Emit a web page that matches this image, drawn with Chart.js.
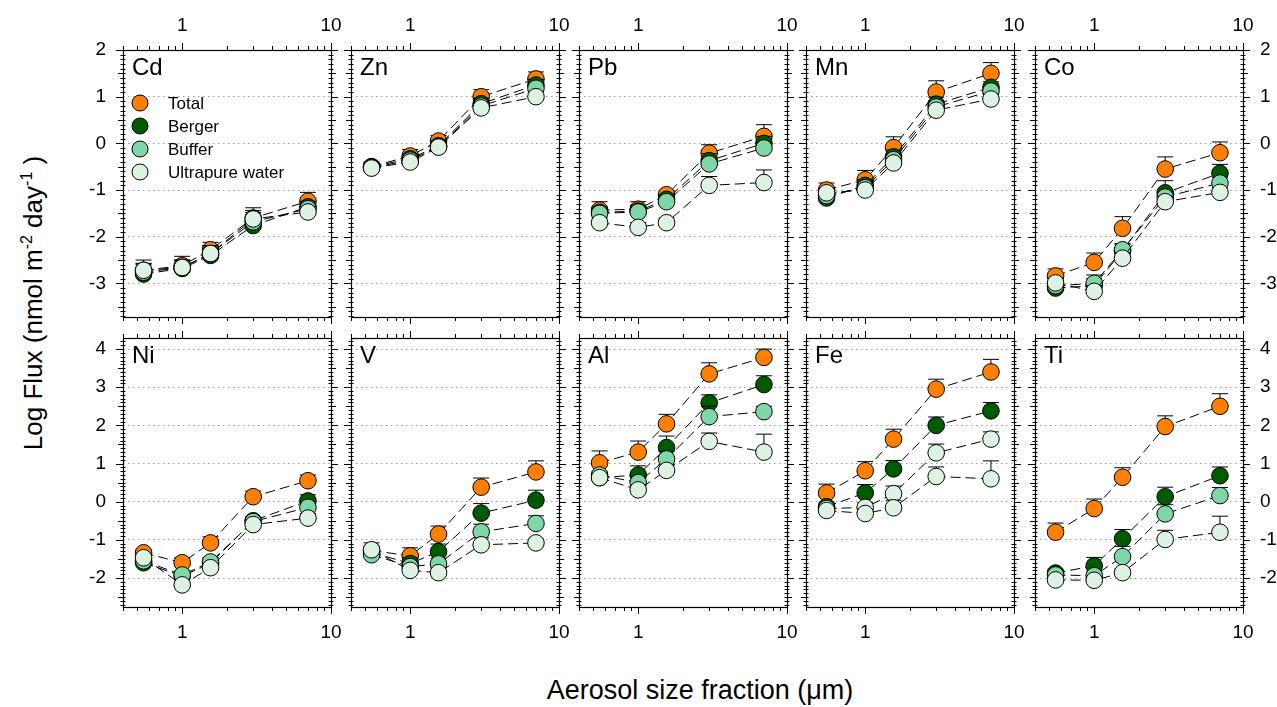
<!DOCTYPE html>
<html>
<head>
<meta charset="utf-8">
<script src="https://cdn.jsdelivr.net/npm/chart.js@4.4.1/dist/chart.umd.min.js"></script>
<style>
  body { margin: 0; background: #fff; width: 1277px; height: 707px; position: relative; overflow: hidden;
         font-family: "Liberation Sans", Arial, sans-serif; color: #000; }
  canvas { position: absolute; }
  #ytitle { position: absolute; left: 33px; top: 303px; transform: translate(-50%, -50%) rotate(-90deg);
            white-space: nowrap; font-size: 26px; }
  #ytitle sup { font-size: 16px; }
  #xtitle { position: absolute; left: 700px; top: 690px; transform: translate(-50%, -50%);
            white-space: nowrap; font-size: 27px; }
</style>
</head>
<body>
<div id="ytitle">Log Flux (nmol m<sup>-2</sup> day<sup>-1</sup> )</div>
<div id="xtitle">Aerosol size fraction (μm)</div>
<script>
// size fraction midpoints (um) and series
const sizes = [0.55, 1.0, 1.55, 3.0, 7.0];
const seriesNames = ['Total', 'Berger', 'Buffer', 'Ultrapure water'];

// log flux, rows = Total, Berger, Buffer, Ultrapure water; *Err = upper error bar length
const cdFlux = [[-2.72, -2.62, -2.28, -1.60, -1.24], [-2.80, -2.68, -2.40, -1.76, -1.36], [-2.76, -2.66, -2.36, -1.68, -1.40], [-2.72, -2.66, -2.36, -1.62, -1.47]];
const cdErr  = [[0.22, 0.20, 0.16, 0.22, 0.19], [0.20, 0.18, 0.18, 0.22, 0.12], [0.18, 0.16, 0.17, 0.20, 0.12], [0.15, 0.15, 0.17, 0.18, 0.12]];
const znFlux = [[-0.50, -0.27, 0.05, 1.00, 1.38], [-0.50, -0.33, -0.05, 0.85, 1.25], [-0.52, -0.36, -0.07, 0.80, 1.18], [-0.53, -0.40, -0.08, 0.76, 1.00]];
const znErr  = [[0.10, 0.14, 0.12, 0.15, 0.15], [0.08, 0.10, 0.10, 0.12, 0.12], [0.08, 0.10, 0.10, 0.12, 0.10], [0.08, 0.10, 0.10, 0.12, 0.10]];
const pbFlux = [[-1.43, -1.41, -1.10, -0.21, 0.15], [-1.48, -1.45, -1.20, -0.37, 0.00], [-1.50, -1.47, -1.25, -0.44, -0.10], [-1.70, -1.80, -1.70, -0.90, -0.84]];
const pbErr  = [[0.18, 0.16, 0.08, 0.18, 0.25], [0.12, 0.12, 0.10, 0.15, 0.15], [0.10, 0.10, 0.10, 0.12, 0.12], [0.10, 0.10, 0.10, 0.19, 0.27]];
const mnFlux = [[-1.00, -0.78, -0.09, 1.10, 1.50], [-1.17, -0.90, -0.29, 0.84, 1.20], [-1.12, -0.95, -0.35, 0.78, 1.12], [-1.06, -1.00, -0.42, 0.71, 0.95]];
const mnErr  = [[0.15, 0.20, 0.23, 0.24, 0.23], [0.12, 0.12, 0.15, 0.15, 0.12], [0.10, 0.10, 0.12, 0.12, 0.10], [0.10, 0.10, 0.10, 0.10, 0.10]];
const coFlux = [[-2.84, -2.55, -1.82, -0.55, -0.20], [-3.10, -3.05, -2.30, -1.06, -0.64], [-3.05, -3.00, -2.28, -1.15, -0.85], [-2.99, -3.17, -2.46, -1.25, -1.05]];
const coErr  = [[0.15, 0.20, 0.25, 0.26, 0.23], [0.12, 0.15, 0.15, 0.26, 0.19], [0.10, 0.18, 0.12, 0.12, 0.12], [0.10, 0.12, 0.12, 0.12, 0.10]];
const niFlux = [[-1.34, -1.60, -1.08, 0.13, 0.55], [-1.60, -1.95, -1.62, -0.50, 0.02], [-1.55, -1.92, -1.58, -0.52, -0.15], [-1.47, -2.18, -1.73, -0.60, -0.43]];
const niErr  = [[0.08, 0.13, 0.16, 0.15, 0.15], [0.12, 0.10, 0.12, 0.10, 0.16], [0.10, 0.10, 0.12, 0.10, 0.12], [0.10, 0.10, 0.10, 0.12, 0.12]];
const vFlux  = [[-1.28, -1.42, -0.85, 0.38, 0.78], [-1.33, -1.62, -1.31, -0.30, 0.04], [-1.39, -1.70, -1.63, -0.79, -0.57], [-1.26, -1.80, -1.86, -1.13, -1.08]];
const vErr   = [[0.20, 0.21, 0.21, 0.24, 0.29], [0.15, 0.15, 0.20, 0.25, 0.26], [0.12, 0.12, 0.15, 0.20, 0.20], [0.10, 0.10, 0.12, 0.18, 0.10]];
const alFlux = [[1.02, 1.30, 2.04, 3.35, 3.78], [0.63, 0.70, 1.42, 2.59, 3.07], [0.70, 0.50, 1.12, 2.23, 2.36], [0.63, 0.31, 0.82, 1.58, 1.30]];
const alErr  = [[0.31, 0.29, 0.25, 0.29, 0.22], [0.10, 0.24, 0.30, 0.21, 0.23], [0.10, 0.15, 0.20, 0.27, 0.14], [0.08, 0.12, 0.15, 0.22, 0.47]];
const feFlux = [[0.23, 0.81, 1.64, 2.95, 3.40], [-0.13, 0.23, 0.86, 2.00, 2.38], [-0.18, -0.15, 0.21, 1.28, 1.64], [-0.23, -0.31, -0.16, 0.66, 0.60]];
const feErr  = [[0.23, 0.24, 0.26, 0.26, 0.33], [0.12, 0.22, 0.22, 0.22, 0.22], [0.10, 0.12, 0.20, 0.23, 0.19], [0.10, 0.10, 0.20, 0.25, 0.47]];
const tiFlux = [[-0.80, -0.18, 0.64, 1.97, 2.50], [-1.87, -1.68, -0.97, 0.13, 0.68], [-1.92, -1.94, -1.44, -0.32, 0.16], [-2.05, -2.06, -1.86, -0.99, -0.80]];
const tiErr  = [[0.24, 0.25, 0.25, 0.28, 0.33], [0.10, 0.22, 0.24, 0.25, 0.23], [0.08, 0.10, 0.27, 0.24, 0.21], [0.08, 0.08, 0.10, 0.24, 0.42]];

const panels = [
  { name: 'Cd', flux: cdFlux, err: cdErr }, { name: 'Zn', flux: znFlux, err: znErr },
  { name: 'Pb', flux: pbFlux, err: pbErr }, { name: 'Mn', flux: mnFlux, err: mnErr },
  { name: 'Co', flux: coFlux, err: coErr }, { name: 'Ni', flux: niFlux, err: niErr },
  { name: 'V', flux: vFlux, err: vErr },    { name: 'Al', flux: alFlux, err: alErr },
  { name: 'Fe', flux: feFlux, err: feErr }, { name: 'Ti', flux: tiFlux, err: tiErr }
];

// y range of each row
const rowRange = [[-3.72, 2], [-2.76, 4.29]];

const colors = ['#ff8000', '#005a00', '#7fd6a6', '#ddf2e3'];
const FONT = '"Liberation Sans", Arial, sans-serif';
Chart.defaults.font.family = FONT;
Chart.defaults.color = '#000';

// panel geometry (plot area)
const colLeft = [123, 351, 579, 806, 1035];
const rowTop = [50, 338];
const plotW = 208;
const plotH = [267, 269];
const MX = 45, MY = 40;

function intTicks(s) {
  const t = [];
  for (let v = Math.ceil(s.min); v <= Math.floor(s.max); v++) t.push({ value: v });
  s.ticks = t;
}

const frame = {
  id: 'frame',
  beforeDatasetsDraw(chart) {
    const { ctx, chartArea: a, scales } = chart;
    const x = scales.x, y = scales.y;
    ctx.save();
    ctx.strokeStyle = '#000';
    ctx.lineWidth = 1;
    ctx.beginPath();
    // x ticks on top and bottom edges, pointing outwards
    const minor = [0.4, 0.5, 0.6, 0.7, 0.8, 0.9, 2, 3, 4, 5, 6, 7, 8, 9];
    minor.forEach(v => {
      const px = Math.round(x.getPixelForValue(v)) + 0.5;
      ctx.moveTo(px, a.top); ctx.lineTo(px, a.top - 4);
      ctx.moveTo(px, a.bottom); ctx.lineTo(px, a.bottom + 4);
    });
    [1, 10].forEach(v => {
      const px = Math.round(x.getPixelForValue(v)) + 0.5;
      ctx.moveTo(px, a.top); ctx.lineTo(px, a.top - 7);
      ctx.moveTo(px, a.bottom); ctx.lineTo(px, a.bottom + 7);
    });
    // y ticks on left and right edges
    for (let k = Math.ceil(y.min * 10); k <= Math.floor(y.max * 10); k++) {
      const py = Math.round(y.getPixelForValue(k / 10)) + 0.5;
      let out = 2.5, inn = 2.5;
      if (k % 10 === 0) { out = 7; inn = 0; }
      else if (k % 5 === 0) { out = 5; inn = 2.5; }
      ctx.moveTo(a.left - out, py); ctx.lineTo(a.left + inn, py);
      ctx.moveTo(a.right + out, py); ctx.lineTo(a.right - inn, py);
    }
    ctx.stroke();
    ctx.lineWidth = 1.2;
    ctx.strokeRect(Math.round(a.left) + 0.5, Math.round(a.top) + 0.5, Math.round(a.width), Math.round(a.height));
    ctx.restore();
  },
  beforeDatasetDraw(chart, args) {
    const p = chart.config.options.plugins.frame;
    const errs = p.err[args.index];
    const ctx = chart.ctx, y = chart.scales.y;
    ctx.save();
    ctx.strokeStyle = '#000';
    ctx.lineWidth = 1;
    ctx.beginPath();
    args.meta.data.forEach((pt, i) => {
      const top = y.getPixelForValue(args.meta._parsed[i].y + errs[i]);
      ctx.moveTo(pt.x, pt.y); ctx.lineTo(pt.x, top);
      ctx.moveTo(pt.x - 8, top); ctx.lineTo(pt.x + 8, top);
    });
    ctx.stroke();
    ctx.restore();
  },
  afterDraw(chart) {
    const p = chart.config.options.plugins.frame;
    const { ctx, chartArea: a } = chart;
    ctx.save();
    ctx.fillStyle = '#000';
    ctx.font = '24px ' + FONT;
    ctx.textBaseline = 'alphabetic';
    ctx.fillText(p.name, a.left + 9, a.top + 25);
    if (p.legend) {
      seriesNames.forEach((n, i) => {
        const cy = a.top + 53 + i * 23;
        ctx.beginPath();
        ctx.arc(a.left + 17, cy, 8, 0, Math.PI * 2);
        ctx.fillStyle = colors[i];
        ctx.fill();
        ctx.lineWidth = 1;
        ctx.strokeStyle = '#000';
        ctx.stroke();
        ctx.fillStyle = '#000';
        ctx.font = '17px ' + FONT;
        ctx.textBaseline = 'middle';
        ctx.fillText(n, a.left + 45, cy + 1);
      });
    }
    ctx.restore();
  }
};

panels.forEach((p, idx) => {
  const r = Math.floor(idx / 5), c = idx % 5;
  const cv = document.createElement('canvas');
  cv.width = plotW + 2 * MX;
  cv.height = plotH[r] + 2 * MY;
  cv.style.left = (colLeft[c] - MX) + 'px';
  cv.style.top = (rowTop[r] - MY) + 'px';
  document.body.appendChild(cv);

  const datasets = p.flux.map((vals, s) => {
    // the Fe panel shows Buffer in the pale colour
    const fill = (p.name === 'Fe' && s === 2) ? colors[3] : colors[s];
    return {
      label: seriesNames[s],
      data: sizes.map((x, i) => ({ x: x, y: vals[i] })),
      order: 4 - s,
      borderColor: '#000',
      borderWidth: 1,
      borderDash: [10, 5],
      pointRadius: 8.3,
      pointBorderWidth: 1,
      pointBorderColor: '#000',
      pointBackgroundColor: fill,
      clip: false
    };
  });

  const tickFont = { size: 19, family: FONT };
  const xAxis = (pos, show, pad) => ({
    type: 'logarithmic', position: pos, min: 0.4, max: 10,
    afterBuildTicks: s => { s.ticks = [{ value: 1 }, { value: 10 }]; },
    afterFit: s => { s.height = MY; },
    grid: { display: false, drawTicks: false }, border: { display: false },
    ticks: { display: show, font: tickFont, color: '#000', padding: pad, maxRotation: 0, autoSkip: false,
             callback: v => String(v) }
  });
  const yAxis = (pos, show, grid) => ({
    type: 'linear', position: pos, min: rowRange[r][0], max: rowRange[r][1],
    afterBuildTicks: intTicks,
    afterFit: s => { s.width = MX; },
    grid: grid ? { display: true, drawTicks: false, color: '#9a9a9a', lineWidth: 1 } : { display: false, drawTicks: false },
    border: { display: false, dash: [1.5, 3.5] },
    ticks: { display: show, font: tickFont, color: '#000', padding: 17 }
  });

  new Chart(cv, {
    type: 'line',
    data: { datasets: datasets },
    options: {
      responsive: false,
      animation: false,
      devicePixelRatio: 1,
      layout: { padding: 0 },
      scales: {
        x: xAxis('bottom', r === 1, 14),
        x2: xAxis('top', r === 0, 13),
        y: yAxis('left', c === 0, true),
        y2: yAxis('right', c === 4, false)
      },
      plugins: {
        legend: { display: false },
        tooltip: { enabled: false },
        frame: { name: p.name, err: p.err, legend: idx === 0 }
      }
    },
    plugins: [frame]
  });
});
</script>
</body>
</html>
